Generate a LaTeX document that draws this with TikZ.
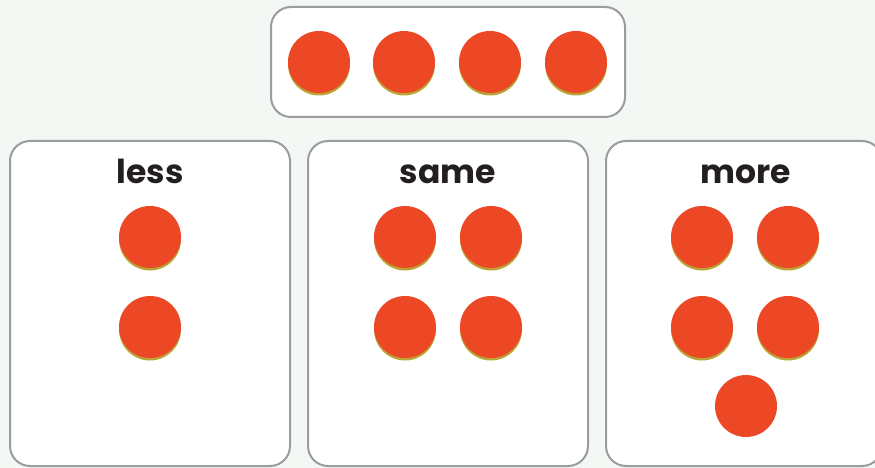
\documentclass[tikz,border=0pt]{standalone}
\usepackage{fontspec}
\newfontfamily\lblfont{Poppins}
\usepackage{xcolor}
\definecolor{paper}{HTML}{F3F8F4}
\definecolor{chipred}{HTML}{EC4826}
\definecolor{chipshade}{HTML}{B9A535}
\definecolor{frame}{HTML}{9A9C9F}
\definecolor{ink}{HTML}{231F20}
\usetikzlibrary{shadows}

\begin{document}
\begin{tikzpicture}[x=1pt, y=-1pt,
  tray/.style={rectangle, draw=frame, line width=2pt, fill=white, rounded corners=20pt, inner sep=0pt},
  chip/.style={circle, fill=chipred, minimum size=62pt, inner sep=0pt, drop shadow={shadow xshift=0pt, shadow yshift=-2.5pt, fill=chipshade, opacity=1}},
  plain chip/.style={circle, fill=chipred, minimum size=62pt, inner sep=0pt},
  lbl/.style={font=\lblfont\bfseries\fontsize{33}{33}\selectfont, text=ink, anchor=base}
]
  \fill[paper] (0,0) rectangle (875,468);
  \useasboundingbox (0,0) rectangle (875,468);
  \clip (0,0) rectangle (875,468);

  % reference set
  \node[tray, minimum width=354pt, minimum height=110pt] (top) at (448,62) {};
  \foreach \i/\x in {1/319,2/404,3/490,4/576}
    \node[chip] (t\i) at (\x,62) {};

  % comparison trays
  \node[tray, minimum width=280pt, minimum height=325pt] (less) at (150,303.5) {};
  \node[tray, minimum width=280pt, minimum height=325pt] (same) at (448,303.5) {};
  \node[tray, minimum width=276pt, minimum height=325pt] (more) at (744,303.5) {};

  \node[lbl] (lessT) at (150,183) {less};
  \node[lbl] (sameT) at (448,183) {same};
  \node[lbl] (moreT) at (746,183) {more};

  \node[chip] (l1) at (150,237) {};
  \node[chip] (l2) at (150,327) {};

  \node[chip] (s1) at (405,237) {};
  \node[chip] (s2) at (491,237) {};
  \node[chip] (s3) at (405,327) {};
  \node[chip] (s4) at (491,327) {};

  \node[chip] (m1) at (702,237) {};
  \node[chip] (m2) at (788,237) {};
  \node[chip] (m3) at (702,327) {};
  \node[chip] (m4) at (788,327) {};
  \node[plain chip] (m5) at (746,406) {};
\end{tikzpicture}
\end{document}
